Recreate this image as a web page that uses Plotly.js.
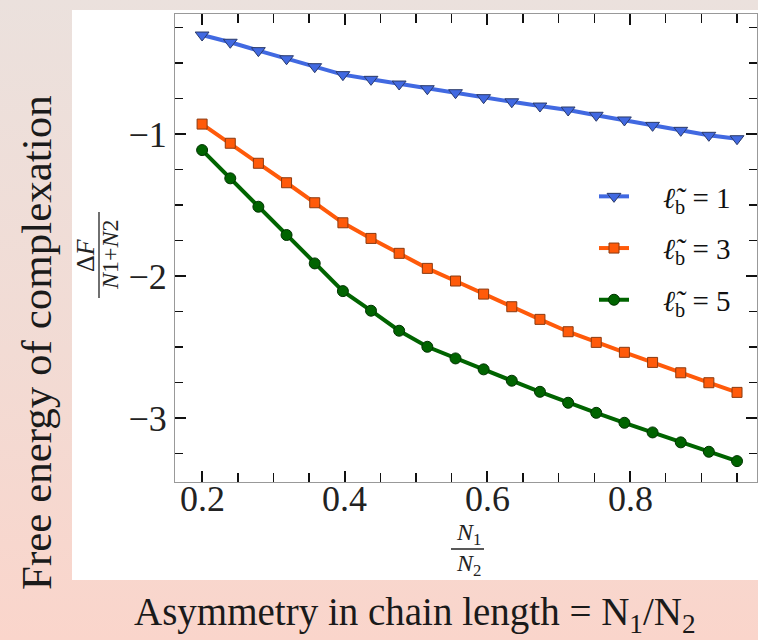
<!DOCTYPE html>
<html>
<head>
<meta charset="utf-8">
<script src="https://cdn.plot.ly/plotly-3.0.1.min.js"></script>
<style>
  html, body { margin: 0; padding: 0; }
  body { width: 758px; height: 640px; background: linear-gradient(to bottom, #ebe1dd 0%, #f2dbd4 55%, #fad5cb 100%); overflow: hidden; }
  #chart { width: 758px; height: 640px; }
</style>
</head>
<body>
<div id="chart"></div>
<script>
// Data
const ratioN1N2 = [0.2, 0.2395, 0.2789, 0.3184, 0.3579, 0.3974, 0.4368, 0.4763, 0.5158, 0.5553,
                   0.5947, 0.6342, 0.6737, 0.7132, 0.7526, 0.7921, 0.8316, 0.8711, 0.9105, 0.95];
const freeEnergyLb1 = [-0.303, -0.354, -0.413, -0.470, -0.526, -0.582, -0.615, -0.648, -0.681, -0.709,
                       -0.744, -0.773, -0.803, -0.831, -0.868, -0.901, -0.939, -0.974, -1.009, -1.033];
const freeEnergyLb3 = [-0.930, -1.065, -1.206, -1.343, -1.484, -1.625, -1.735, -1.840, -1.946, -2.035,
                       -2.127, -2.216, -2.305, -2.392, -2.467, -2.537, -2.608, -2.681, -2.751, -2.819];
const freeEnergyLb5 = [-1.113, -1.312, -1.512, -1.711, -1.911, -2.106, -2.244, -2.385, -2.498, -2.580,
                       -2.657, -2.737, -2.815, -2.892, -2.963, -3.033, -3.101, -3.171, -3.237, -3.303];
const pad = '\u00a0\u00a0\u00a0\u00a0';
const seriesNames = [pad + '<i>ℓ̃</i><sub>b</sub> = 1', pad + '<i>ℓ̃</i><sub>b</sub> = 3', pad + '<i>ℓ̃</i><sub>b</sub> = 5'];
const xTickVals = [0.2, 0.4, 0.6, 0.8];
const xTickText = ['0.2', '0.4', '0.6', '0.8'];
const yTickVals = [-1, -2, -3];
const yTickText = ['\u22121', '\u22122', '\u22123'];

const W = 758, H = 640;
const M = {l: 175, r: 1, t: 14, b: 158};
const PW = W - M.l - M.r, PH = H - M.t - M.b;
const px = x => (x - M.l) / PW;
const py = y => 1 - (y - M.t) / PH;

const serif = 'Liberation Serif';

const traces = [
  {x: ratioN1N2, y: freeEnergyLb1, name: seriesNames[0], legendgroup: 'a', mode: 'lines+markers',
   line: {color: '#4169e1', width: 4},
   marker: {symbol: 'triangle-down', size: 12, color: '#4169e1', line: {color: '#2a3a6a', width: 1}}},
  {x: ratioN1N2, y: freeEnergyLb3, name: seriesNames[1], legendgroup: 'b', mode: 'lines+markers',
   line: {color: '#ff5a0a', width: 4},
   marker: {symbol: 'square', size: 10, color: '#ff5a0a', line: {color: '#8a3a10', width: 1}}},
  {x: ratioN1N2, y: freeEnergyLb5, name: seriesNames[2], legendgroup: 'c', mode: 'lines+markers',
   line: {color: '#006400', width: 4},
   marker: {symbol: 'circle', size: 11, color: '#006400', line: {color: '#003300', width: 1}}}
];

// x tick labels placed through the x axis scale (data coordinates), slightly closer to the axis
const xTickAnnotations = xTickVals.map((v, i) => ({
  text: xTickText[i], xref: 'x', yref: 'paper', x: v, y: py(499),
  showarrow: false, xanchor: 'center', yanchor: 'middle',
  font: {family: serif, size: 36, color: '#222'}
}));

const layout = {
  width: W, height: H,
  margin: M,
  paper_bgcolor: 'rgba(0,0,0,0)',
  plot_bgcolor: 'rgba(0,0,0,0)',
  showlegend: true,
  legend: {
    x: px(594), y: py(171), xanchor: 'left', yanchor: 'top',
    bgcolor: 'rgba(255,255,255,0)', borderwidth: 0,
    font: {family: serif, size: 29, color: '#111'},
    tracegroupgap: 11, traceorder: 'grouped'
  },
  xaxis: {
    range: [0.162, 0.978],
    tickvals: xTickVals, ticktext: xTickText, showticklabels: false,
    ticks: 'inside', ticklen: 11, tickwidth: 2, tickcolor: '#111',
    minor: {dtick: 0.05, tick0: 0, ticks: 'inside', ticklen: 9, tickwidth: 1.5, tickcolor: '#111', showgrid: false},
    showline: true, linecolor: '#999', linewidth: 1, mirror: 'allticks',
    showgrid: false, zeroline: false
  },
  yaxis: {
    range: [-3.45, -0.155],
    tickvals: yTickVals, ticktext: yTickText,
    ticks: 'inside', ticklen: 11, tickwidth: 2, tickcolor: '#111',
    minor: {dtick: 0.25, tick0: 0, ticks: 'inside', ticklen: 8, tickwidth: 1.5, tickcolor: '#111', showgrid: false},
    showline: true, linecolor: '#999', linewidth: 1, mirror: 'allticks',
    showgrid: false, zeroline: false,
    tickfont: {family: serif, size: 36, color: '#222'}
  },
  shapes: [
    {type: 'rect', xref: 'paper', yref: 'paper', layer: 'below',
     x0: px(72), x1: px(760), y0: py(580), y1: py(10),
     fillcolor: '#ffffff', line: {width: 0}},
    // fraction bar of y-axis title
    {type: 'line', xref: 'paper', yref: 'paper', x0: px(99), x1: px(99), y0: py(298), y1: py(212),
     line: {color: '#222', width: 1.3}},
    // fraction bar of x-axis title
    {type: 'line', xref: 'paper', yref: 'paper', x0: px(451), x1: px(484), y0: py(549), y1: py(549),
     line: {color: '#222', width: 1.3}}
  ],
  annotations: xTickAnnotations.concat([
    {text: 'Δ<i>F</i>', xref: 'paper', yref: 'paper', x: px(86), y: py(255), textangle: -90,
     showarrow: false, font: {family: serif, size: 26, color: '#222'}, xanchor: 'center', yanchor: 'middle'},
    {text: '<i>N</i>1+<i>N</i>2', xref: 'paper', yref: 'paper', x: px(110), y: py(255), textangle: -90,
     showarrow: false, font: {family: serif, size: 24, color: '#222'}, xanchor: 'center', yanchor: 'middle'},
    {text: '<i>N</i><sub>1</sub>', xref: 'paper', yref: 'paper', x: px(468), y: py(534),
     showarrow: false, font: {family: serif, size: 24, color: '#222'}, xanchor: 'center', yanchor: 'middle'},
    {text: '<i>N</i><sub>2</sub>', xref: 'paper', yref: 'paper', x: px(468), y: py(565),
     showarrow: false, font: {family: serif, size: 24, color: '#222'}, xanchor: 'center', yanchor: 'middle'},
    {text: 'Free energy of complexation', xref: 'paper', yref: 'paper', x: px(36), y: py(343), textangle: -90,
     showarrow: false, font: {family: serif, size: 43, color: '#1a1a1a'}, xanchor: 'center', yanchor: 'middle'},
    {text: 'Asymmetry in chain length = N<sub>1</sub>/N<sub>2</sub>', xref: 'paper', yref: 'paper', x: px(415), y: py(614),
     showarrow: false, font: {family: serif, size: 39, color: '#1a1a1a'}, xanchor: 'center', yanchor: 'middle'}
  ])
};

Plotly.newPlot('chart', traces, layout, {staticPlot: true, displayModeBar: false});
</script>
</body>
</html>
